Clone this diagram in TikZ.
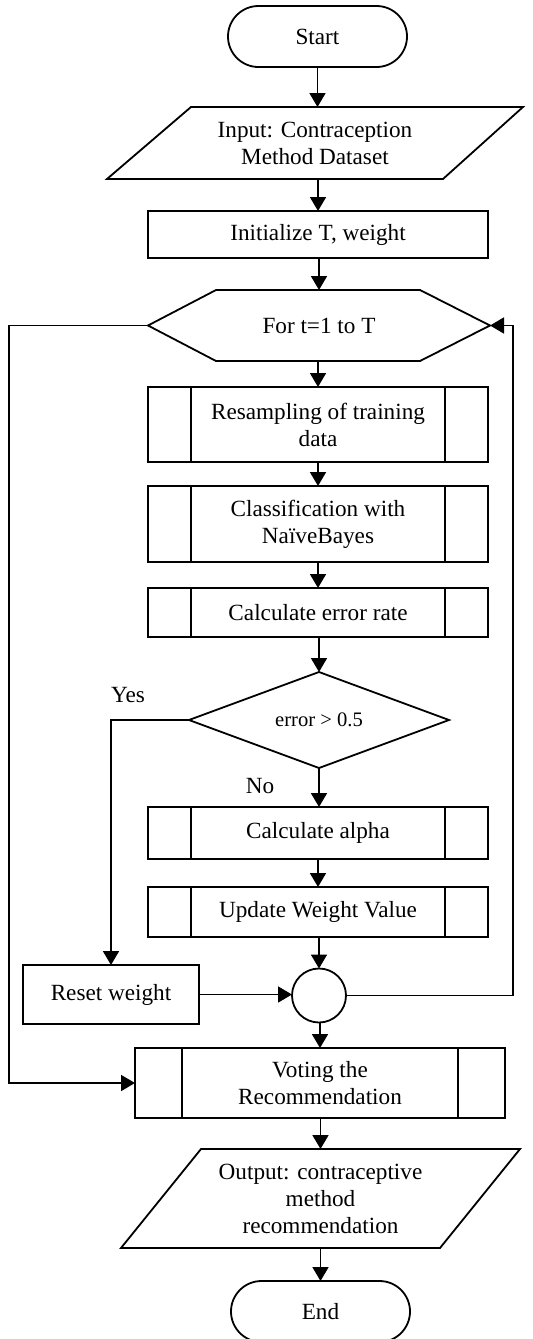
\documentclass[tikz,border=0pt]{standalone}
\usepackage{fontspec}
\setmainfont{Liberation Serif}
\usetikzlibrary{arrows.meta,shapes.misc,calc}

\begin{document}
\begin{tikzpicture}[x=0.5pt,y=-0.5pt,
  font=\fontsize{11.6}{13.5}\selectfont,
  every node/.style={inner sep=0pt, outer sep=0pt, align=center},
  line/.style={line width=0.9pt},
  flow/.style={line, -{Triangle[length=7pt,width=8pt]}},
  terminal/.style={rounded rectangle, draw, line, minimum width=89.5pt, minimum height=30.5pt},
  procbox/.style={rectangle, draw, line, minimum width=170pt},
  subproc/.style={rectangle, draw, line, minimum width=170pt,
    path picture={
      \draw[line] ([xshift=#1]path picture bounding box.north west) -- ([xshift=#1]path picture bounding box.south west);
      \draw[line] ([xshift=-#1]path picture bounding box.north east) -- ([xshift=-#1]path picture bounding box.south east);
    }},
  subproc/.default=21.5pt,
  frame/.style={rectangle, draw=none},
]
\useasboundingbox (0,0) rectangle (532,1339);

% ---- nodes ----
\node[terminal] (start) at (317.5,36.5) {Start};
\node[frame, minimum width=208pt, minimum height=36pt] (input) at (315,143)
  {Input: Contraception\\Method Dataset};
\node[procbox, minimum height=23.5pt] (init) at (318,234.5) {Initialize T, weight};
\node[frame, minimum width=171pt, minimum height=35.5pt] (loop) at (319,325.5) {For t=1 to T};
\node[subproc, minimum height=37.5pt] (resample) at (318,424.5) {Resampling of training\\data};
\node[subproc, minimum height=38pt] (classify) at (318,524) {Classification with\\NaïveBayes};
\node[subproc, minimum height=24.5pt] (errrate) at (318,612.5) {Calculate error rate};
\node[frame, minimum width=130pt, minimum height=48pt, font=\fontsize{10.3}{12}\selectfont]
  (check) at (319,720) {error > 0.5};
\node[subproc, minimum height=26pt] (alpha) at (318,833) {Calculate alpha};
\node[subproc, minimum height=25pt] (update) at (318,912) {Update Weight Value};
\node[circle, draw, line, minimum size=27pt] (join) at (319,995.5) {};
\node[procbox, minimum width=88pt, minimum height=29.5pt] (reset) at (111,994.5) {Reset weight};
\node[subproc=23.5pt, minimum width=185pt, minimum height=35pt] (vote) at (320,1083)
  {Voting the\\Recommendation};
\node[frame, minimum width=199.5pt, minimum height=49.5pt] (output) at (320.5,1198.5)
  {Output: contraceptive\\method\\recommendation};
\node[terminal] (end) at (320.5,1311.5) {End};

% ---- outlines of the drawn shapes ----
\draw[line] (input.south west) -- ($(input.north west)+(84,0)$) -- (input.north east)
  -- ($(input.south east)+(-80,0)$) -- cycle;
\draw[line] (loop.west) -- ($(loop.north west)+(68,0)$) -- ($(loop.north east)+(-70,0)$)
  -- (loop.east) -- ($(loop.south east)+(-70,0)$) -- ($(loop.south west)+(68,0)$) -- cycle;
\draw[line] (check.north) -- (check.east) -- (check.south) -- (check.west) -- cycle;
\draw[line] (output.south west) -- ($(output.north west)+(80,0)$) -- (output.north east)
  -- ($(output.south east)+(-80,0)$) -- cycle;

% ---- labels ----
\node (yes) at (128,695) {Yes};
\node (no) at (260,786) {No};

% ---- connectors ----
\coordinate (lrail) at (9,0);
\coordinate (rrail) at (513,0);
\draw[flow] (start.south) -- (start.south |- input.north);
\draw[flow] (init.north |- input.south) -- (init.north);
\draw[flow] (init.south) -- (init.south -| loop.north) -- (loop.north);
\draw[flow] (resample.north |- loop.south) -- (resample.north);
\draw[flow] (resample.south) -- (classify.north);
\draw[flow] (classify.south) -- (errrate.north);
\draw[flow] (check.north |- errrate.south) -- (check.north);
\draw[flow] (check.south) -- (check.south |- alpha.north);
\draw[flow] (alpha.south) -- (update.north);
\draw[flow] (join.north |- update.south) -- (join.north);
\draw[flow] (check.west) -| (reset.north);
\draw[flow] (reset.east) -- (reset.east -| join.west);
\draw[flow] (join.east) -- (join.east -| rrail) -- (rrail |- loop.east) -- (loop.east);
\draw[flow] (loop.west) -- (loop.west -| lrail) -- (lrail |- vote.west) -- (vote.west);
\draw[flow] (join.south) -- (join.south -| vote.north) -- (vote.north);
\draw[flow] (vote.south) -- (vote.south -| output.north) -- (output.north);
\draw[flow] (output.south) -- (end.north);
\end{tikzpicture}
\end{document}
